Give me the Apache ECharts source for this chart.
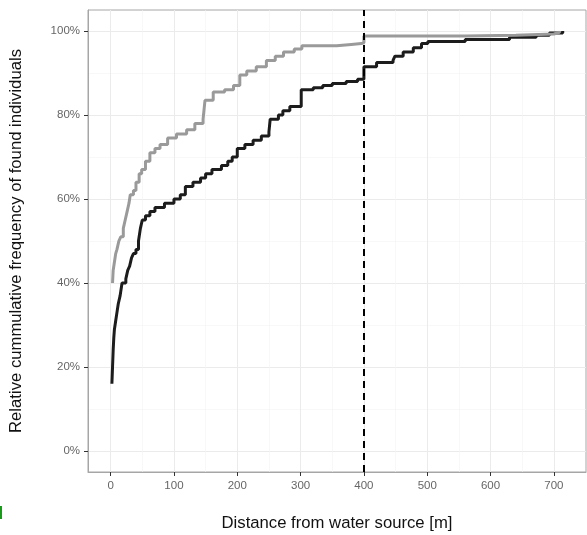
<!DOCTYPE html>
<html>
<head>
<meta charset="utf-8">
<script src="https://cdn.jsdelivr.net/npm/echarts@6/dist/echarts.min.js"></script>
<style>
  html, body { margin: 0; padding: 0; background: #fff; }
  #chart { width: 587px; height: 535px; }
</style>
</head>
<body>
<div id="chart"></div>
<script>
  // ECDF steps: distance [m] and cumulative share
  const blackDist = [2, 3, 4, 5, 6, 8, 10, 12, 15, 18, 24, 27, 30, 33, 36, 40, 44, 47, 50, 55, 62, 70, 85, 100, 110, 118, 130, 142, 150, 160, 175, 185, 192, 200, 212, 225, 238, 250, 252, 265, 272, 283, 301, 320, 335, 350, 372, 390, 400, 420, 446, 449, 462, 478, 491, 501, 560, 630, 672, 693, 714];
  const blackFrac = [0.16, 0.20, 0.24, 0.27, 0.29, 0.31, 0.33, 0.35, 0.37, 0.40, 0.41, 0.43, 0.44, 0.46, 0.47, 0.48, 0.50, 0.53, 0.55, 0.56, 0.57, 0.58, 0.59, 0.60, 0.61, 0.63, 0.64, 0.65, 0.66, 0.67, 0.68, 0.69, 0.70, 0.72, 0.73, 0.74, 0.75, 0.76, 0.79, 0.80, 0.81, 0.82, 0.86, 0.865, 0.87, 0.875, 0.88, 0.885, 0.915, 0.925, 0.93, 0.94, 0.95, 0.96, 0.97, 0.975, 0.98, 0.985, 0.99, 0.995, 1.0];

  const greyDist = [3, 4, 6, 8, 10, 13, 16, 20, 23, 26, 29, 31, 36, 40, 45, 49, 55, 62, 70, 78, 90, 104, 120, 133, 146, 149, 162, 180, 194, 204, 215, 230, 246, 260, 273, 290, 302, 357, 380, 396, 400, 560, 640, 700, 709];
  const greyFrac = [0.40, 0.43, 0.45, 0.47, 0.48, 0.50, 0.51, 0.53, 0.55, 0.57, 0.59, 0.61, 0.62, 0.64, 0.66, 0.67, 0.69, 0.71, 0.72, 0.73, 0.745, 0.755, 0.765, 0.78, 0.79, 0.835, 0.855, 0.86, 0.87, 0.895, 0.905, 0.915, 0.93, 0.94, 0.95, 0.957, 0.965, 0.968, 0.97, 0.972, 0.988, 0.99, 0.993, 0.997, 1.0];

  const cutoffDist = 400;

  const xTicks = [0, 100, 200, 300, 400, 500, 600, 700];
  const xMinor = [50, 150, 250, 350, 450, 550, 650];
  const yTicks = [0, 0.2, 0.4, 0.6, 0.8, 1.0];
  const yMinor = [0.1, 0.3, 0.5, 0.7, 0.9];

  const xRange = [-35.75, 750.75];
  const yRange = [-0.05, 1.05];

  const toPairs = (xs, ys) => xs.map((x, i) => [x, ys[i]]);

  const chart = echarts.init(document.getElementById('chart'), null, { renderer: 'canvas' });

  const majorGrid = { show: true, lineStyle: { color: '#ebebeb', width: 1 } };
  const minorGrid = { show: true, lineStyle: { color: '#f4f4f4', width: 0.6 } };
  const titleFont = { color: '#111', fontSize: 16.7, fontFamily: 'Liberation Sans' };
  const borderLine = { show: true, onZero: false, lineStyle: { color: '#a6a6a6', width: 1 } };

  const option = {
    animation: false,
    backgroundColor: '#fff',
    grid: {
      left: 88, top: 10, width: 498, height: 462,
      outerBoundsMode: 'none',
      containLabel: false,
      show: true, borderColor: '#a6a6a6', borderWidth: 1
    },
    graphic: [
      { type: 'rect', left: 0, top: 506, shape: { width: 2, height: 13 }, style: { fill: '#1a9a1a' } }
    ],
    xAxis: [
      {
        type: 'value', min: xRange[0], max: xRange[1], position: 'bottom',
        name: 'Distance from water source [m]',
        nameLocation: 'middle', nameGap: 43,
        nameTextStyle: titleFont,
        axisLine: borderLine,
        axisTick: { show: true, length: 4, customValues: xTicks, lineStyle: { color: '#333', width: 1 } },
        axisLabel: { customValues: xTicks, margin: 8, color: '#666', fontSize: 11.5, fontFamily: 'Liberation Sans' },
        splitLine: majorGrid
      },
      {
        type: 'value', min: xRange[0], max: xRange[1], position: 'bottom',
        axisLine: { show: false, onZero: false },
        axisTick: { show: false, customValues: xMinor },
        axisLabel: { show: false, customValues: xMinor },
        splitLine: minorGrid
      }
    ],
    yAxis: [
      {
        type: 'value', min: yRange[0], max: yRange[1], position: 'left',
        name: 'Relative cummulative frequency of found individuals',
        nameLocation: 'middle', nameGap: 63,
        nameTextStyle: titleFont,
        axisLine: borderLine,
        axisTick: { show: true, length: 4, customValues: yTicks, lineStyle: { color: '#333', width: 1 } },
        axisLabel: {
          customValues: yTicks, margin: 8, color: '#666', fontSize: 11.5, fontFamily: 'Liberation Sans',
          formatter: v => Math.round(v * 100) + '%'
        },
        splitLine: majorGrid
      },
      {
        type: 'value', min: yRange[0], max: yRange[1], position: 'left',
        axisLine: { show: false, onZero: false },
        axisTick: { show: false, customValues: yMinor },
        axisLabel: { show: false, customValues: yMinor },
        splitLine: minorGrid
      }
    ],
    series: [
      {
        name: 'black',
        type: 'line',
        step: 'end',
        data: toPairs(blackDist, blackFrac),
        showSymbol: false,
        lineStyle: { color: '#1c1c1c', width: 3 },
        z: 3,
        markLine: {
          silent: true,
          symbol: ['none', 'none'],
          label: { show: false },
          lineStyle: { color: '#000', type: [7, 5], width: 2 },
          data: [{ xAxis: cutoffDist }]
        }
      },
      {
        name: 'grey',
        type: 'line',
        step: 'end',
        data: toPairs(greyDist, greyFrac),
        showSymbol: false,
        lineStyle: { color: '#9a9a9a', width: 3 },
        z: 4
      }
    ]
  };

  chart.setOption(option);
</script>
</body>
</html>
